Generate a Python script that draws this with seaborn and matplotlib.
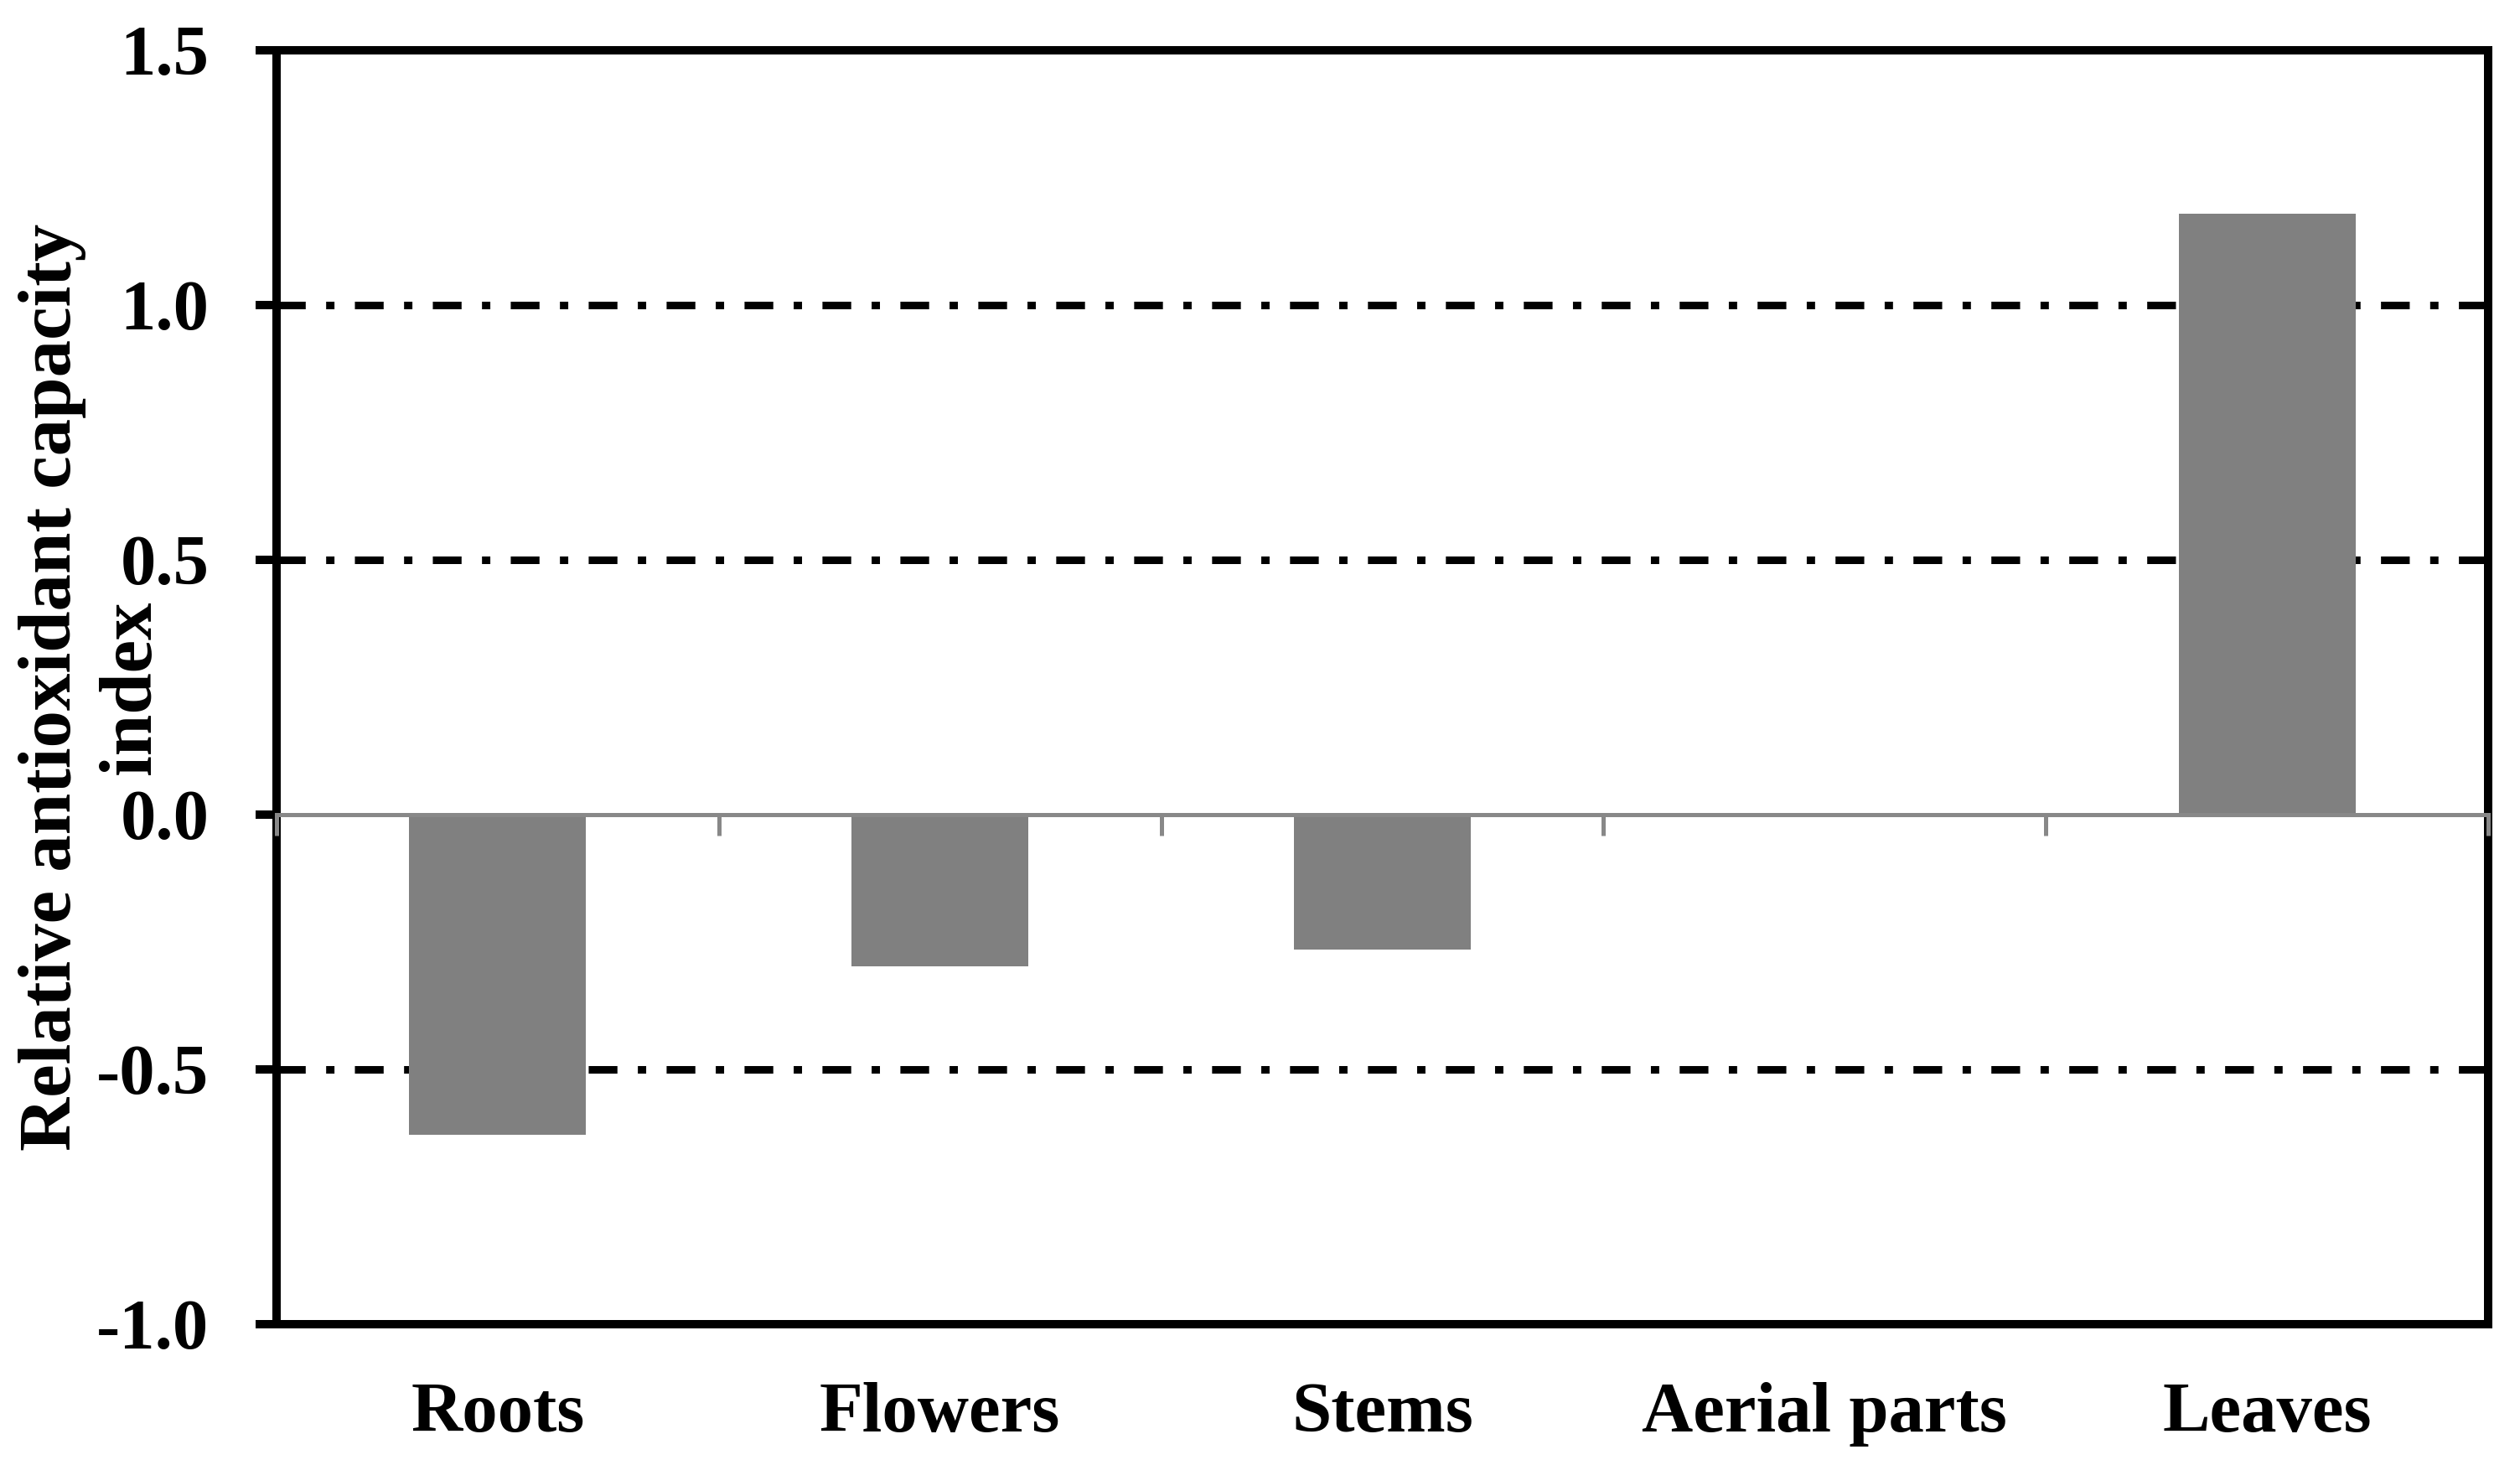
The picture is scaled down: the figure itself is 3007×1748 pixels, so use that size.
import matplotlib
matplotlib.use("Agg")
import matplotlib.pyplot as plt
import seaborn as sns

categories = ["Roots", "Flowers", "Stems", "Aerial parts", "Leaves"]
values = [-0.628, -0.297, -0.265, 0.0, 1.18]
yticks = [-1.0, -0.5, 0.0, 0.5, 1.0, 1.5]
ylabel = "Relative antioxidant capacity\nindex"

sns.set_theme(style="white")
plt.rcParams["font.family"] = ["Liberation Serif", "DejaVu Serif"]
plt.rcParams["font.weight"] = "bold"
plt.rcParams["text.color"] = "black"
plt.rcParams["axes.labelcolor"] = "black"
plt.rcParams["xtick.color"] = "black"
plt.rcParams["ytick.color"] = "black"

DPI = 100
fig = plt.figure(figsize=(3007 / DPI, 1748 / DPI), dpi=DPI)
ax = fig.add_axes([330 / 3007, 1 - 1580 / 1748, (2969 - 330) / 3007, (1580 - 60) / 1748])

sns.barplot(x=categories, y=values, color="#808080", saturation=1, width=0.4,
            edgecolor="none", linewidth=0, ax=ax, zorder=3)

ax.set_ylim(yticks[0], yticks[-1])
ax.set_xlim(-0.5, len(categories) - 0.5)
ax.set_yticks(yticks)
ax.set_yticklabels([f"{t:.1f}" for t in yticks], fontsize=61, fontweight="bold", color="black")
ax.set_xticks(range(len(categories)))
ax.set_xticklabels(categories, fontsize=61, fontweight="bold", color="black")
ax.tick_params(axis="x", length=0, pad=50)
ax.tick_params(axis="y", length=18, width=7.2, color="black", pad=40, direction="out", left=True)
ax.set_xlabel("")

# dash-dot gridlines (not at zero or limits)
for t in yticks:
    if t != 0 and t not in (yticks[0], yticks[-1]):
        ax.axhline(t, color="black", lw=6.5, linestyle=(0, (3.8, 2.7, 1.1, 2.7)),
                   zorder=1, dash_capstyle="butt")

for s in ax.spines.values():
    s.set_visible(True)
    s.set_color("black")
    s.set_linewidth(7.2)
    s.set_zorder(5)

# zero axis line with category boundary ticks
ax2 = ax.twiny()
ax2.set_xlim(ax.get_xlim())
for name, s in ax2.spines.items():
    s.set_visible(name == "bottom")
ax2.spines["bottom"].set_position(("data", 0))
ax2.spines["bottom"].set_color("#888888")
ax2.spines["bottom"].set_linewidth(3.6)
ax2.spines["bottom"].set_zorder(4)
ax2.xaxis.set_ticks_position("bottom")
ax2.set_xticks([i - 0.5 for i in range(len(categories) + 1)])
ax2.set_xticklabels([])
ax2.tick_params(axis="x", length=18, width=3.6, color="#888888", direction="out")
ax2.tick_params(axis="x", which="both", top=False, labeltop=False)

ax.set_ylabel(ylabel, fontsize=64, fontweight="bold", linespacing=1.22, color="black")
ax.yaxis.set_label_coords(-0.05, 0.5)

fig.savefig("out.png", dpi=DPI, facecolor="white")
